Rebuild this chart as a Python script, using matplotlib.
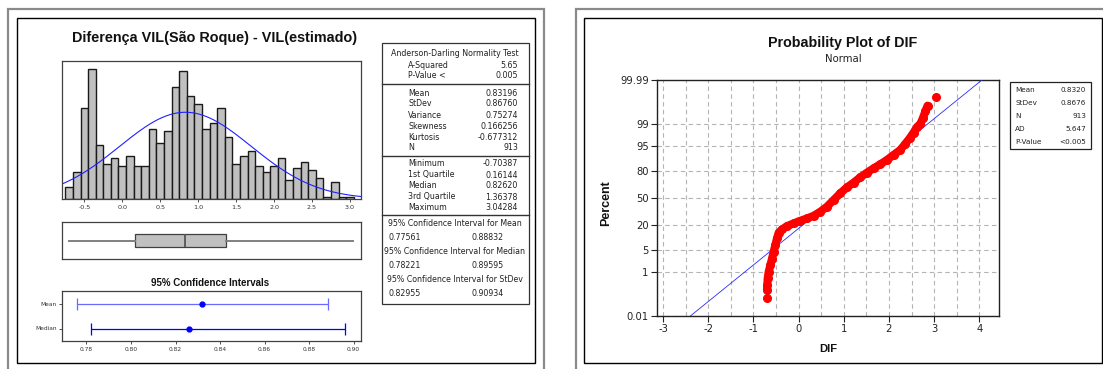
import numpy as np
import matplotlib
matplotlib.use("Agg")
import matplotlib.pyplot as plt
from matplotlib.patches import Rectangle
from statistics import NormalDist

plt.rcParams['font.family'] = ['DejaVu Sans']
plt.rcParams['axes.unicode_minus'] = False

# ---------------- data ----------------
bin_centers = [-0.7, -0.6, -0.5, -0.4, -0.3, -0.2, -0.1, 0.0, 0.1, 0.2, 0.3, 0.4, 0.5,
               0.6, 0.7, 0.8, 0.9, 1.0, 1.1, 1.2, 1.3, 1.4, 1.5, 1.6, 1.7, 1.8, 1.9,
               2.0, 2.1, 2.2, 2.3, 2.4, 2.5, 2.6, 2.7, 2.8, 2.9, 3.0]
bin_counts = [6, 13, 44, 63, 26, 17, 20, 16, 21, 16, 16, 34, 27, 33, 54, 62, 50, 46, 34,
              37, 44, 30, 17, 21, 23, 16, 13, 16, 20, 9, 15, 18, 14, 10, 1, 8, 1, 1]
bin_width = 0.1
hist_ticks = [-0.5, 0.0, 0.5, 1.0, 1.5, 2.0, 2.5, 3.0]

mean, stdev, n = 0.83196, 0.86760, 913
q_min, q1, median, q3, q_max = -0.70387, 0.16144, 0.82620, 1.36378, 3.04284

ci_labels = ["Mean", "Median"]
ci_center = [0.83196, 0.82620]
ci_low = [0.77561, 0.78221]
ci_high = [0.88832, 0.89595]
ci_ticks = [0.78, 0.80, 0.82, 0.84, 0.86, 0.88, 0.90]

table_sections = [
    [("A-Squared", "5.65"), ("P-Value <", "0.005")],
    [("Mean", "0.83196"), ("StDev", "0.86760"), ("Variance", "0.75274"),
     ("Skewness", "0.166256"), ("Kurtosis", "-0.677312"), ("N", "913")],
    [("Minimum", "-0.70387"), ("1st Quartile", "0.16144"), ("Median", "0.82620"),
     ("3rd Quartile", "1.36378"), ("Maximum", "3.04284")],
]
ci_rows = [("95% Confidence Interval for Mean", "0.77561", "0.88832"),
           ("95% Confidence Interval for Median", "0.78221", "0.89595"),
           ("95% Confidence Interval for StDev", "0.82955", "0.90934")]

# probability plot: points (DIF value, cumulative percent)
pp_dif = [-0.704, -0.699, -0.692, -0.684, -0.662, -0.625, -0.588, -0.552, -0.515, -0.478,
          -0.441, -0.367, -0.257, -0.109, 0.038, 0.186, 0.333, 0.481, 0.628, 0.776, 0.923,
          1.071, 1.218, 1.366, 1.513, 1.661, 1.808, 1.956, 2.103, 2.251, 2.361, 2.457,
          2.546, 2.619, 2.693, 2.752, 2.804, 2.855, 3.043]
pp_pct = [0.077, 0.195, 0.30, 0.56, 1.0, 1.7, 2.8, 4.5, 6.9, 10.1, 13.7, 16.1, 18.8, 21.2,
          23.7, 26.0, 28.8, 33.3, 39.2, 47.5, 55.9, 63.2, 68.6, 74.3, 78.8, 82.6, 85.6,
          88.5, 91.3, 93.5, 95.6, 97.0, 98.05, 98.72, 99.03, 99.41, 99.68, 99.82, 99.93]
pp_yticks = [0.01, 1, 5, 20, 50, 80, 95, 99, 99.99]
pp_ylabels = ["0.01", "1", "5", "20", "50", "80", "95", "99", "99.99"]
pp_xticks = [-3, -2, -1, 0, 1, 2, 3, 4]
pp_mean, pp_sd = 0.8320, 0.8676
pp_stats = [("Mean", "0.8320"), ("StDev", "0.8676"), ("N", "913"),
            ("AD", "5.647"), ("P-Value", "<0.005")]

# ---------------- layout helpers ----------------
W, H = 1103, 369
fig = plt.figure(figsize=(W / 100, H / 100), dpi=100)
fig.patch.set_facecolor("white")
renderer = fig.canvas.get_renderer()


def fx(x):
    return x / W


def fy(y):
    return 1 - y / H


def axpx(x0, y0, x1, y1):
    return fig.add_axes([x0 / W, 1 - y1 / H, (x1 - x0) / W, (y1 - y0) / H])


def rect(x0, y0, x1, y1, color, lw):
    fig.add_artist(Rectangle((fx(x0), fy(y1)), (x1 - x0) / W, (y1 - y0) / H,
                             transform=fig.transFigure, fill=False,
                             edgecolor=color, linewidth=lw, clip_on=False))


def hline(x0, x1, y, color="black", lw=0.8):
    fig.add_artist(plt.Line2D([fx(x0), fx(x1)], [fy(y), fy(y)],
                              transform=fig.transFigure, color=color, lw=lw))


def ftext(x, y, s, width=None, size=7, **kw):
    kw.setdefault("va", "center")
    kw.setdefault("ha", "center")
    t = fig.text(fx(x), fy(y), s, fontsize=size, **kw)
    if width:
        bb = t.get_window_extent(renderer)
        w = bb.height if kw.get("rotation", 0) == 90 else bb.width
        t.set_fontsize(size * width / w)
    return t


TITLE_FONT = ['Liberation Sans', 'DejaVu Sans']

# ---------------- panel frames ----------------
rect(8, 9, 544, 400, "#8a8a8a", 1.6)
rect(17, 18, 535, 363, "black", 1.0)
rect(576, 9, 1140, 400, "#8a8a8a", 1.6)
rect(584, 18, 1102, 363, "black", 1.0)

# ---------------- left panel ----------------
ftext(214.5, 38, "Diferença VIL(São Roque) - VIL(estimado)", width=285, size=10,
      fontweight="bold", color="#111111", family=TITLE_FONT)

xl = (-0.794, 3.145)
axh = axpx(62, 61, 361, 199)
axh.bar(bin_centers, bin_counts, width=bin_width, color="#c0c0c0",
        edgecolor="#1a1a1a", linewidth=1.0)
xs = np.linspace(xl[0], xl[1], 300)
pdf = n * bin_width * np.exp(-0.5 * ((xs - mean) / stdev) ** 2) / (stdev * np.sqrt(2 * np.pi))
axh.plot(xs, pdf, color="#2020ff", lw=0.8)
axh.set_xlim(*xl)
axh.set_ylim(0, 66.8)
axh.set_yticks([])
axh.set_xticks(hist_ticks)
axh.set_xticklabels([f"{t:.1f}" for t in hist_ticks])
axh.tick_params(axis="x", labelsize=4.6, length=2, width=0.6, pad=2.5, colors="#333333")
for s in axh.spines.values():
    s.set_color("#404040")
    s.set_linewidth(0.9)

axb = axpx(62, 222, 361, 259)
axb.bxp([{"med": median, "q1": q1, "q3": q3, "whislo": q_min, "whishi": q_max,
          "fliers": []}], positions=[0.5], widths=0.34, vert=False,
        patch_artist=True, showcaps=False,
        boxprops=dict(facecolor="#c0c0c0", edgecolor="#404040", linewidth=0.9),
        whiskerprops=dict(color="#808080", linewidth=1.4),
        medianprops=dict(color="#555555", linewidth=1.3))
axb.set_xlim(*xl)
axb.set_ylim(0, 1)
axb.set_xticks([])
axb.set_yticks([])
for s in axb.spines.values():
    s.set_color("#404040")
    s.set_linewidth(0.9)

ftext(210, 283, "95% Confidence Intervals", width=120, size=6, fontweight="bold",
      color="#111111", family=TITLE_FONT)
axc = axpx(62, 291, 361, 341)
ci_y = [0.75, 0.25]
ci_colors = ["#6a6aff", "#0000ff"]
for yv, c, lo, hi, col in zip(ci_y, ci_center, ci_low, ci_high, ci_colors):
    axc.errorbar([c], [yv], xerr=[[c - lo], [hi - c]], fmt="o", color=col,
                 ecolor=col, elinewidth=0.9, capsize=4, capthick=0.9,
                 ms=3.5, mfc="#0000ff", mec="#0000ff")
axc.set_xlim(0.769, 0.9033)
axc.set_ylim(0, 1)
axc.set_xticks(ci_ticks)
axc.set_xticklabels([f"{t:.2f}" for t in ci_ticks])
axc.set_yticks(ci_y)
axc.set_yticklabels(ci_labels)
axc.tick_params(axis="both", labelsize=4.2, length=2, width=0.6, pad=2, colors="#333333")
for s in axc.spines.values():
    s.set_color("#404040")
    s.set_linewidth(0.9)

# summary table
tx0, tx1 = 382, 529
rect(tx0, 42.7, tx1, 304, "#333333", 0.9)
head = ftext(455, 53, "Anderson-Darling Normality Test", width=128, size=5, color="#222222")
fs = head.get_fontsize()
row_y = [[65, 76], [93, 104, 115, 126, 137, 148], [164, 175, 186, 197, 208]]
for sec, ys in zip(table_sections, row_y):
    for (lab, val), yy in zip(sec, ys):
        ftext(408, yy, lab, size=fs, ha="left", color="#222222")
        ftext(518, yy, val, size=fs, ha="right", color="#222222")
for yy in [84, 156, 215]:
    hline(tx0, tx1, yy, "#333333", 1.0)
ci_ty = [(224, 238), (252, 266), (280, 294)]
for (lab, a, b), (y1, y2) in zip(ci_rows, ci_ty):
    ftext(455, y1, lab, size=fs, color="#222222")
    ftext(405, y2, a, size=fs, color="#222222")
    ftext(488, y2, b, size=fs, color="#222222")

# ---------------- right panel ----------------
nd = NormalDist()


def zq(p):
    return nd.inv_cdf(p / 100.0)


ftext(843, 43.5, "Probability Plot of DIF", width=150, size=9, fontweight="bold",
      color="#111111", family=TITLE_FONT)
ftext(843, 58.8, "Normal", width=37, size=7, color="#222222")

axp = axpx(657, 80, 999, 316)
ylo, yhi = zq(0.01), zq(99.99)
axp.set_xlim(-3.133, 4.436)
axp.set_ylim(ylo, yhi)
axp.set_xticks(pp_xticks)
axp.set_xticks([t + 0.5 for t in pp_xticks[:-1]], minor=True)
axp.set_yticks([zq(p) for p in pp_yticks])
axp.set_yticklabels(pp_ylabels)
axp.grid(True, which="both", color="#b4b4b4", linestyle=(0, (4, 3)), linewidth=0.8)
axp.tick_params(axis="both", which="major", labelsize=7.2, length=4, width=0.8, pad=2,
                colors="#222222")
axp.tick_params(axis="x", which="minor", length=0)
for s in axp.spines.values():
    s.set_color("#222222")
    s.set_linewidth(1.0)

axp.plot([pp_mean + pp_sd * ylo, pp_mean + pp_sd * yhi], [ylo, yhi],
         color="#2a2aff", lw=0.6, zorder=3)
pz = [zq(p) for p in pp_pct]
axp.plot(pp_dif[1:-1], pz[1:-1], color="#ff0000", lw=5.8, solid_capstyle="round",
         solid_joinstyle="round", zorder=4)
axp.plot(pp_dif, pz, "o", color="#ff0000", ms=5.5, mec="#ff0000", zorder=5)

ftext(606, 203, "Percent", width=46, size=8, rotation=90, fontweight="bold",
      color="#111111", family=TITLE_FONT)
ftext(828, 349, "DIF", width=18, size=8, fontweight="bold", color="#111111",
      family=TITLE_FONT)

# stats box
rect(1010, 82, 1091, 148.5, "#222222", 0.9)
for (lab, val), yy in zip(pp_stats, [90.5, 103.4, 116.3, 129.3, 142.2]):
    ftext(1015, yy, lab, size=5.2, ha="left", color="#222222")
    ftext(1086, yy, val, size=5.2, ha="right", color="#222222")

fig.savefig("out.png", dpi=100, facecolor="white")
